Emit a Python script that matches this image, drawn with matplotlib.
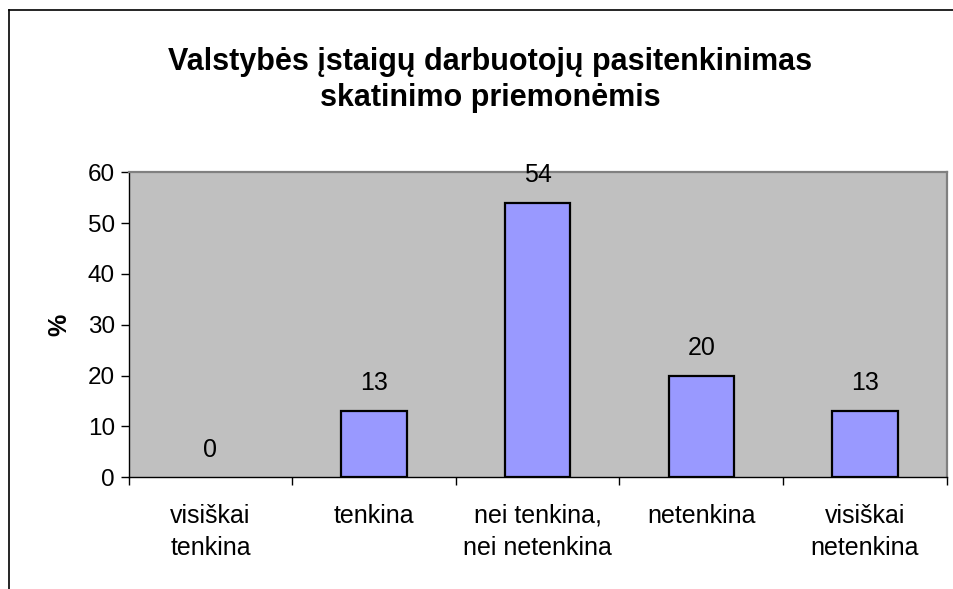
import matplotlib.pyplot as plt
from matplotlib.lines import Line2D
from matplotlib.ticker import FixedLocator

plt.rcParams['font.family'] = ['Liberation Sans', 'DejaVu Sans']

categories = ['visiškai\ntenkina', 'tenkina', 'nei tenkina,\nnei netenkina',
              'netenkina', 'visiškai\nnetenkina']
values = [0, 13, 54, 20, 13]
y_ticks = [0, 10, 20, 30, 40, 50, 60]
title = 'Valstybės įstaigų darbuotojų pasitenkinimas\nskatinimo priemonėmis'

W, H = 954, 589
fig = plt.figure(figsize=(W / 100, H / 100), dpi=100)
ax = fig.add_axes([128.7 / W, 111.7 / H, 818 / W, 305 / H])

x = list(range(len(categories)))
# zero-height bars are not drawn with an outline
edge_widths = [1.6 if v > 0 else 0 for v in values]
ax.bar(x, values, width=0.40, color='#9999FF', edgecolor='black',
       linewidth=edge_widths, zorder=3)
ax.set_facecolor('#C0C0C0')
ax.set_xlim(-0.5, len(categories) - 0.5)
ax.set_ylim(0, 60)
ax.set_yticks(y_ticks)

ax.set_xticks(x)
ax.set_xticklabels(categories, fontsize=18, linespacing=1.45)
ax.xaxis.set_minor_locator(FixedLocator([i - 0.5 for i in range(len(categories) + 1)]))
ax.tick_params(axis='x', which='major', length=0, pad=19)
ax.tick_params(axis='x', which='minor', length=6, width=1, color='black', direction='out')
ax.tick_params(axis='y', labelsize=17.5, length=6, width=1, direction='out', pad=4)

for side in ('top', 'right'):
    ax.spines[side].set_color('#808080')
    ax.spines[side].set_linewidth(1.6)
for side in ('left', 'bottom'):
    ax.spines[side].set_color('black')
    ax.spines[side].set_linewidth(1.0)

for xi, v in zip(x, values):
    ax.annotate(str(v), xy=(xi, v), xytext=(0, 20), textcoords='offset points',
                ha='center', va='center', fontsize=18, zorder=4)

ax.set_ylabel('%', fontsize=18, fontweight='bold', labelpad=12)

fig.text(490 / W, 1 - 80 / H, title, ha='center', va='center', fontsize=22,
         fontweight='bold', linespacing=1.25)

# outer chart frame (only top and left visible)
fig.add_artist(Line2D([9 / W, 1], [1 - 10 / H, 1 - 10 / H], transform=fig.transFigure,
                      color='black', linewidth=1.2))
fig.add_artist(Line2D([9 / W, 9 / W], [0, 1 - 10 / H], transform=fig.transFigure,
                      color='black', linewidth=1.2))

fig.savefig('out.png', dpi=100)
